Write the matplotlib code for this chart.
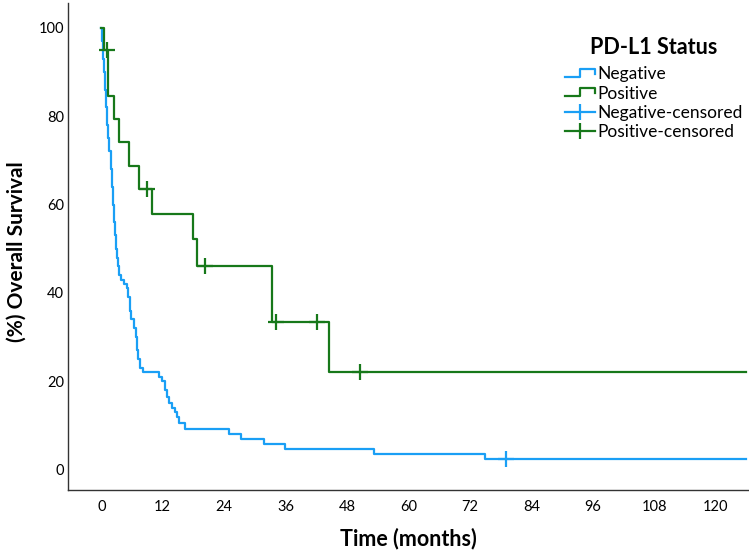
import matplotlib
matplotlib.use("Agg")
import matplotlib.pyplot as plt
from matplotlib.lines import Line2D
from matplotlib.legend_handler import HandlerBase

# ---- data ----
neg_times = [0, 0.2, 0.4, 0.6, 0.8, 1.0, 1.2, 1.4, 1.6, 1.9, 2.1, 2.3, 2.5, 2.7, 2.9,
             3.1, 3.3, 3.5, 3.8, 4.4, 5.0, 5.3, 5.6, 5.9, 6.3, 6.7, 7.0, 7.2, 7.6, 8.2,
             11.3, 11.8, 12.4, 12.8, 13.3, 13.9, 14.4, 14.8, 15.1, 16.4,
             25.0, 27.3, 31.7, 35.9, 53.3, 74.9, 126.0]
neg_surv = [100, 97, 93, 90, 86, 82, 78, 75, 72, 68, 64, 60, 56, 53, 50,
            48, 46, 44, 43, 42, 41, 39, 36, 34, 32, 30, 27, 25, 23, 22,
            21, 20, 18, 16.5, 15, 14, 13, 12, 10.5, 9.3,
            8.1, 6.9, 5.8, 4.6, 3.5, 2.4, 2.4]
neg_cens_t = [79.0]
neg_cens_s = [2.4]

pos_times = [0, 0.6, 1.25, 2.4, 3.5, 5.5, 7.3, 9.9, 18.0, 18.7, 33.4, 44.4, 126.0]
pos_surv = [100, 95.0, 84.6, 79.4, 74.1, 68.8, 63.5, 57.8, 52.1, 46.2, 33.4, 22.2, 22.2]
pos_cens_t = [1.1, 8.9, 20.3, 34.1, 42.1, 50.5]
pos_cens_s = [95.0, 63.5, 46.2, 33.4, 33.4, 22.2]

x_ticks = [0, 12, 24, 36, 48, 60, 72, 84, 96, 108, 120]
y_ticks = [0, 20, 40, 60, 80, 100]
labels = ["Negative", "Positive", "Negative-censored", "Positive-censored"]

BLUE = "#1a9ff5"
GREEN = "#17781a"
FONT = ["Lato", "DejaVu Sans"]

fig = plt.figure(figsize=(7.49, 5.52), dpi=100)
ax = fig.add_axes([68/749, 62/552, 681/749, 487/552])

lw = 1.6
ax.step(neg_times, neg_surv, where="post", color=BLUE, lw=lw)
ax.step(pos_times, pos_surv, where="post", color=GREEN, lw=lw)
ax.plot(neg_cens_t, neg_cens_s, ls="none", marker="+", ms=11, mew=1.6, color=BLUE)
ax.plot(pos_cens_t, pos_cens_s, ls="none", marker="+", ms=11, mew=1.6, color=GREEN)

ax.set_xlim(-6.5, 126.5)
ax.set_ylim(-4.6, 105.6)
ax.spines["top"].set_visible(False)
ax.spines["right"].set_visible(False)
for s in ("left", "bottom"):
    ax.spines[s].set_linewidth(1.0)
    ax.spines[s].set_color("#333333")

tick_font = ["Liberation Sans Narrow", "Lato", "DejaVu Sans"]
ax.set_xticks(x_ticks)
ax.set_xticklabels([str(t) for t in x_ticks], family=tick_font, fontsize=10.5)
ax.set_yticks(y_ticks)
ax.set_yticklabels([str(t) for t in y_ticks], family=FONT, fontsize=10.5)
ax.tick_params(axis="x", length=0, pad=7)
ax.tick_params(axis="y", length=0, pad=3)

ax.set_xlabel("Time (months)", family=FONT, fontweight="bold", fontsize=15.5)
ax.xaxis.set_label_coords(0.5, -0.078)
ax.set_ylabel("(%) Overall Survival", family=FONT, fontweight="bold", fontsize=15)
ax.yaxis.set_label_coords(-0.060, 0.489)


class StepHandler(HandlerBase):
    def create_artists(self, legend, orig_handle, xdescent, ydescent, width, height,
                       fontsize, trans):
        x0, y0 = -xdescent, -ydescent
        xs = [x0, x0 + 0.5 * width, x0 + 0.5 * width, x0 + width, x0 + width]
        ys = [y0 + 0.2 * height, y0 + 0.2 * height, y0 + 0.85 * height,
              y0 + 0.85 * height, y0 + 0.45 * height]
        ln = Line2D(xs, ys, color=orig_handle.get_color(), lw=orig_handle.get_linewidth())
        ln.set_transform(trans)
        return [ln]


h_neg = Line2D([], [], color=BLUE, lw=lw)
h_pos = Line2D([], [], color=GREEN, lw=lw)
h_negc = Line2D([0], [0], color=BLUE, lw=lw, marker="|", ms=12, mew=1.6)
h_posc = Line2D([0], [0], color=GREEN, lw=lw, marker="|", ms=12, mew=1.6)

leg = ax.legend([h_neg, h_pos, h_negc, h_posc], labels,
                handler_map={h_neg: StepHandler(), h_pos: StepHandler()},
                loc="upper left", bbox_to_anchor=(553/749, 1 - 25/552),
                bbox_transform=fig.transFigure, frameon=False,
                prop={"family": FONT, "size": 12.5},
                title="PD-L1 Status",
                title_fontproperties={"family": FONT, "weight": "bold", "size": 15.5},
                handlelength=1.7, handletextpad=0.15, labelspacing=0.18, numpoints=1,
                borderpad=0.2)
leg._legend_box.align = "center"
leg._legend_box.sep = 6

fig.savefig("out.png", dpi=100)
